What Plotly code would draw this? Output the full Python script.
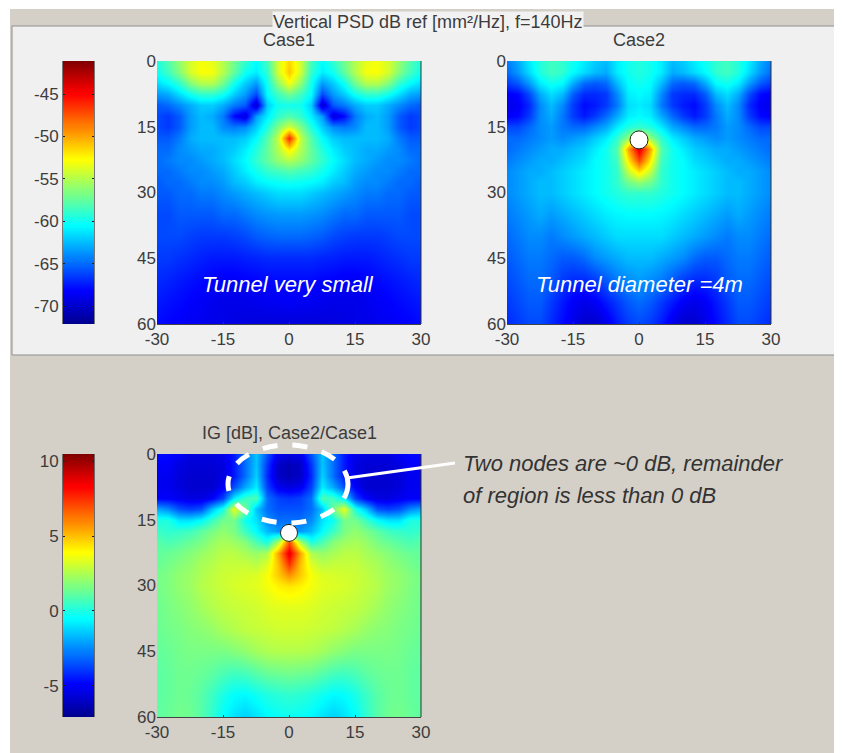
import plotly.graph_objects as go
import numpy as np

W, H = 842, 753
PAGE_INSET = 8  # the page body sits 8px in from the window corner

x_half = [0, 2.5, 5, 7.5, 10, 12.5, 15, 17.5, 20, 22.5, 25, 27.5, 30]
depths = [0, 2.5, 5, 7.5, 10, 12.5, 15, 17.5, 20, 22.5, 25, 27.5, 30, 35, 40, 45, 50, 55, 60]

case1 = [
    [-51.5, -54, -58.5, -60.5, -59, -57, -55, -53.5, -53, -54, -56, -58, -59.5],
    [-51, -54, -59, -61, -60, -57.5, -55, -53, -52.8, -54, -56.5, -58.5, -60],
    [-53, -56, -60, -63.5, -62, -60, -57, -55, -55, -56.5, -59, -60.5, -61.5],
    [-57, -58.5, -60.5, -66, -63.5, -62, -60, -59, -59, -60, -61.5, -63, -63.5],
    [-60, -60, -62, -70, -65.5, -64.5, -63, -62, -62, -63, -64, -65, -65.5],
    [-58, -59, -61, -63.5, -69.5, -68, -64.5, -63, -62.5, -63.5, -65.5, -66.5, -66],
    [-54, -56.5, -59.5, -62, -64, -64.5, -64, -62.5, -62.5, -63.5, -65.5, -66.5, -66],
    [-46, -54.5, -58, -60.5, -62, -62.5, -62.5, -62.5, -62.5, -63, -64.5, -65.5, -65.5],
    [-52, -55, -57.5, -59.5, -61, -62, -62.5, -63, -63, -63.5, -64, -65, -65],
    [-55, -56, -57.5, -59, -60.5, -61.5, -62.5, -63, -63.5, -64, -64, -64.5, -65],
    [-58, -58.5, -59, -60, -61, -62, -63, -63.5, -64, -64, -64.5, -65, -65],
    [-60, -60.2, -60.5, -61, -62, -62.5, -63.5, -64, -64, -64.5, -65, -65, -65.5],
    [-61.5, -61.5, -62, -62.5, -63, -63.5, -64, -64.5, -64.5, -65, -65, -65.5, -65.5],
    [-63.5, -63.5, -63.7, -64, -64.5, -65, -65, -65.5, -65.5, -65.5, -65.5, -66, -66],
    [-65, -65, -65.2, -65.5, -66, -66.3, -66.5, -66.5, -66.5, -66.3, -66, -66, -66],
    [-67, -67, -67, -67.2, -67.3, -67.5, -67.5, -67.5, -67.3, -67, -66.8, -66.5, -66.5],
    [-68, -68, -68, -68.2, -68.3, -68.5, -68.5, -68.3, -68, -67.8, -67.5, -67.2, -67],
    [-68.5, -68.6, -68.7, -68.8, -69, -69, -69, -68.8, -68.5, -68.3, -68, -67.8, -67.5],
    [-69.5, -69.5, -69.5, -69.5, -69.3, -69.2, -69, -69, -68.8, -68.6, -68.4, -68.2, -68],
]

case2 = [
    [-59.5, -60, -61, -62.5, -62, -61, -60, -59, -58.5, -59.5, -61, -63, -64.5],
    [-59.5, -60, -61, -63, -62.5, -61.5, -60.5, -59, -58.5, -59.5, -61.5, -63.5, -65],
    [-60, -60.5, -62.5, -65, -65.5, -65, -63, -60.5, -60, -61, -63.5, -65.5, -66.5],
    [-60.5, -61, -64, -66.5, -67, -67, -65.5, -62.5, -61.5, -63, -66, -68, -68.5],
    [-61, -61.5, -64.5, -66.5, -67.5, -68, -66.5, -64, -62.5, -64, -67, -68.5, -69],
    [-60.5, -61, -63, -65, -66.5, -67.5, -66.5, -64.5, -63, -64, -66.5, -68, -68.5],
    [-59, -59.5, -61, -63, -64, -65, -65, -64.5, -63.5, -64, -65, -66, -66],
    [-52, -56, -59, -61, -62, -63, -63.5, -64, -63.5, -64, -64.5, -65, -65],
    [-44, -50, -58, -60, -61, -62, -62.5, -63, -63, -63.5, -64, -64.5, -65],
    [-47, -52, -58.5, -60, -60.5, -61.5, -62, -62.5, -63, -63, -63.5, -64, -64.5],
    [-51.5, -54.5, -59, -60, -60.5, -61, -61.5, -62, -62.5, -63, -63, -63.5, -64],
    [-56, -57, -59, -60, -60.5, -61, -61.5, -62, -62.5, -62.5, -63, -63.5, -64],
    [-59, -59, -59.5, -60, -60.5, -61, -61.5, -62, -62.5, -62.5, -63, -63.5, -64],
    [-60.5, -60.5, -60.7, -61, -61.5, -62, -62.5, -63, -63.5, -63, -63.5, -64, -64.5],
    [-61.5, -61.5, -61.5, -62, -62.5, -63, -63.5, -64, -64.5, -64, -64, -64.5, -65],
    [-62.5, -62.5, -63, -63.5, -64, -65, -65.5, -65.5, -65, -64.5, -64.5, -65, -65.5],
    [-63.5, -64, -64.5, -65.5, -66.5, -67, -67, -66.5, -65.5, -65, -65, -65.5, -66],
    [-65, -65.5, -66.5, -67.5, -68.5, -69, -68.5, -67.5, -66.5, -65.5, -65.5, -66, -66.5],
    [-66, -66.5, -67.5, -69, -70, -70, -69, -68, -67, -66, -66, -66.5, -67],
]

ig = [
    [-5.5, -5.3, -3.5, -1.5, -3, -4.5, -5.3, -5.5, -5.5, -5.5, -5, -4.8, -4.8],
    [-6.3, -6, -4, -1.5, -3, -4.5, -5.5, -5.7, -5.7, -5.7, -5.5, -5, -5],
    [-6.3, -6, -4.2, -1.3, -3, -4.5, -5.5, -5.8, -5.8, -5.8, -5.6, -5.2, -5.2],
    [-5.5, -5.2, -3.8, -0.8, -2, -3.5, -5, -5.8, -5.8, -5.8, -5.6, -5.2, -5.2],
    [-4, -3.8, -3, 0.8, 0.5, -0.8, -3.8, -5, -5.5, -5.5, -5.2, -5, -5],
    [-3.5, -3.5, -3, -1.5, 1.5, 3.5, 0, -1.5, -3.5, -3.8, -3.5, -2.5, -2],
    [-3, -3, -2.5, -1, -0.3, 1.5, 1.5, 0.5, -0.5, -1, -1, 0, 0],
    [-2, -2.3, -1.7, -0.5, 0.5, 1.6, 2, 1.6, 1.1, 0.6, 0.4, 0.3, 0.5],
    [7, 2.5, 0, 0.8, 1.8, 2.2, 2.4, 2.1, 1.6, 1.3, 1, 0.8, 1],
    [8.8, 5.5, 2.5, 2.1, 2.4, 2.7, 2.7, 2.4, 2.1, 1.8, 1.5, 1.3, 1.2],
    [7.5, 5, 3.3, 2.7, 2.9, 2.9, 2.9, 2.6, 2.4, 2, 1.8, 1.5, 1.3],
    [5.8, 4.8, 3.8, 3.3, 3.2, 3.1, 3, 2.8, 2.5, 2.2, 2, 1.7, 1.5],
    [4.3, 4.1, 3.7, 3.4, 3.3, 3.2, 3, 2.8, 2.6, 2.2, 2, 1.7, 1.5],
    [3.4, 3.4, 3.3, 3.1, 3, 2.9, 2.8, 2.6, 2.3, 2, 1.8, 1.6, 1.4],
    [3.1, 3.1, 3, 2.9, 2.8, 2.6, 2.4, 2.1, 1.9, 1.8, 1.6, 1.5, 1.3],
    [2.6, 2.6, 2.5, 2.3, 2, 1.8, 1.6, 1.6, 1.6, 1.6, 1.5, 1.3, 1.2],
    [1.5, 1.4, 1.3, 1, 0.7, 0.6, 0.8, 1.1, 1.3, 1.4, 1.4, 1.2, 1.1],
    [0.3, 0.2, 0, -0.3, -0.6, -0.5, -0.1, 0.5, 1, 1.3, 1.4, 1.2, 1.1],
    [-0.3, -0.4, -0.6, -1, -1.3, -1, -0.5, 0.3, 1, 1.4, 1.5, 1.3, 1.1],
]

x_ticks = [-30, -15, 0, 15, 30]
y_ticks = [0, 15, 30, 45, 60]
psd_range = [-72.1, -41.1]
ig_range = [-7.1, 10.5]
psd_ticks = [-45, -50, -55, -60, -65, -70]
ig_ticks = [10, 5, 0, -5]
tunnel_depth = 18

jet = [
    [0, "rgb(0,0,143)"], [0.125, "rgb(0,0,255)"], [0.375, "rgb(0,255,255)"],
    [0.625, "rgb(255,255,0)"], [0.875, "rgb(255,0,0)"], [1, "rgb(128,0,0)"],
]

TXT = "#3c3c3c"
FONT = "Liberation Sans"
TICK_FONT = dict(family=FONT, size=17, color=TXT)
FIG_W, FIG_H = W - PAGE_INSET, H - PAGE_INSET


def mirror(rows):
    return [r[:0:-1] + r for r in rows]


x_full = [-v for v in x_half[:0:-1]] + x_half


def px(v):
    return (v - PAGE_INSET) / FIG_W


def py(v):
    return 1 - (v - PAGE_INSET) / FIG_H


def dom_x(a, b):
    return [px(a), px(b)]


def dom_y(top, bottom):
    return [py(bottom), py(top)]


fig = go.Figure()

panels = [
    ("x", "y", case1, psd_range, (157, 421), (61, 324)),
    ("x2", "y2", case2, psd_range, (507, 771), (61, 324)),
    ("x3", "y3", ig, ig_range, (157, 421), (454, 717)),
]
axes = {}


def axis_key(name):
    return name[0] + "axis" + name[1:]


for xa, ya, z, zr, xd, yd in panels:
    fig.add_trace(go.Heatmap(
        x=x_full, y=depths, z=mirror(z), xaxis=xa, yaxis=ya,
        colorscale=jet, zmin=zr[0], zmax=zr[1], zsmooth="best", showscale=False,
    ))
    axes[axis_key(xa)] = dict(
        domain=dom_x(*xd), range=[-30, 30], tickvals=x_ticks,
        ticktext=[str(v) for v in x_ticks], anchor=ya, ticks="inside",
        ticklen=2, tickcolor="#333", showline=True, linecolor="#444", linewidth=1,
        showgrid=False, zeroline=False, tickfont=TICK_FONT,
    )
    axes[axis_key(ya)] = dict(
        domain=dom_y(*yd), range=[60, 0], tickvals=y_ticks,
        ticktext=[str(v) for v in y_ticks], anchor=xa, ticks="",
        showgrid=False, zeroline=False, tickfont=TICK_FONT,
    )

bars = [
    ("x4", "y4", psd_range, psd_ticks, (63, 94), (61, 324)),
    ("x5", "y5", ig_range, ig_ticks, (63, 94), (454, 717)),
]
for xa, ya, zr, ticks, xd, yd in bars:
    levels = np.linspace(zr[0], zr[1], 256)
    fig.add_trace(go.Heatmap(
        x=[0, 1], y=levels, z=[[v, v] for v in levels], xaxis=xa, yaxis=ya,
        colorscale=jet, zmin=zr[0], zmax=zr[1], showscale=False, hoverinfo="skip",
    ))
    axes[axis_key(xa)] = dict(
        domain=dom_x(*xd), range=[0, 1], anchor=ya, showticklabels=False, ticks="",
        showgrid=False, zeroline=False,
    )
    axes[axis_key(ya)] = dict(
        domain=dom_y(*yd), range=zr, anchor=xa, tickvals=ticks,
        ticktext=[str(v) for v in ticks], ticks="inside", ticklen=2,
        tickcolor="#222", mirror="ticks", showline=True, linecolor="rgba(40,40,40,0.6)",
        showgrid=False, zeroline=False, tickfont=TICK_FONT,
    )

for xa, ya, size in [("x2", "y2", 18), ("x3", "y3", 17)]:
    fig.add_trace(go.Scatter(
        x=[0], y=[tunnel_depth], xaxis=xa, yaxis=ya, mode="markers", showlegend=False,
        marker=dict(color="white", size=size, line=dict(color="#222", width=1)),
    ))


def rect(x0, y0, x1, y1, **kw):
    return dict(type="rect", xref="paper", yref="paper", x0=px(x0), x1=px(x1),
                y0=py(y1), y1=py(y0), layer="below", **kw)


shapes = [
    rect(10, 9, W, H, fillcolor="#d4d0c8", line=dict(width=0)),
    rect(12, 26, 841, 355, fillcolor="#f0f0f0", line=dict(color="#8f8f8f", width=1)),
]
for xr in (421, 771):
    shapes.append(dict(type="line", xref="paper", yref="paper", x0=px(xr), x1=px(xr),
                       y0=py(324), y1=py(61), line=dict(color="#333", width=1)))
shapes.append(dict(type="line", xref="paper", yref="paper", x0=px(421), x1=px(421),
                   y0=py(717), y1=py(454), line=dict(color="#333", width=1)))
shapes.append(dict(type="circle", xref="paper", yref="paper", x0=px(228), x1=px(348),
                   y0=py(523), y1=py(445), line=dict(color="white", width=5, dash="dash")))
shapes.append(dict(type="line", xref="paper", yref="paper", x0=px(347), x1=px(455),
                   y0=py(478), y1=py(463), line=dict(color="white", width=3)))


def note(x, y, text, size=18, color=TXT, italic=False, anchor="center", **kw):
    return dict(xref="paper", yref="paper", x=px(x), y=py(y), text=text, showarrow=False,
                xanchor=anchor, yanchor="middle", align="left",
                font=dict(family=FONT, size=size, color=color,
                          style="italic" if italic else "normal"), **kw)


annotations = [
    note(289, 40, "Case1"),
    note(639, 40, "Case2"),
    note(428, 22, "Vertical PSD dB ref [mm²/Hz], f=140Hz", bgcolor="#f2f2f2", borderpad=0),
    note(289, 433, "IG [dB], Case2/Case1"),
    note(288, 284, "Tunnel very small", size=22, color="white", italic=True),
    note(639, 284, "Tunnel diameter =4m", size=22, color="white", italic=True),
    note(461, 463, "Two nodes are ~0 dB, remainder", size=22, color="#333", italic=True, anchor="left"),
    note(461, 495, "of region is less than 0 dB", size=22, color="#333", italic=True, anchor="left"),
]

fig.update_layout(
    width=FIG_W, height=FIG_H, margin=dict(l=0, r=0, t=0, b=0, pad=0, autoexpand=False),
    paper_bgcolor="white", plot_bgcolor="white", showlegend=False, shapes=shapes,
    annotations=annotations, **axes,
)
fig.write_html("out.html")
